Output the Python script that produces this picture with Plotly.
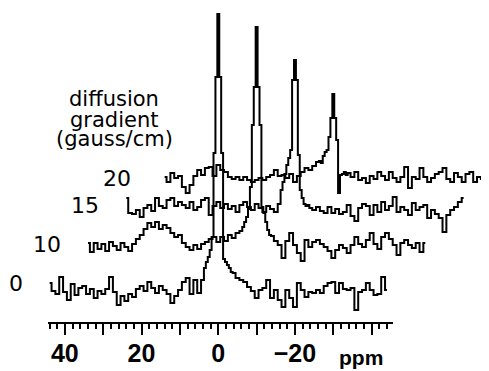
import plotly.graph_objects as go

# ---------------- data ----------------
GRADIENTS = ["0", "10", "15", "20"]          # diffusion gradient (gauss/cm)

# chemical shift grid relative to each spectrum's peak (ppm)
LEFT_PPM = list(range(44, 3, -1))
PEAK_PPM = [3.5, 3, 2.5, 2, 1.5, 1, 0.5, 0, -0.5, -1, -1.5, -2, -2.5, -3, -3.5]
RIGHT_PPM = list(range(-4, -45, -1))
REL_PPM = LEFT_PPM + PEAK_PPM + RIGHT_PPM

signal_0 = [
    9, 1, -2, 15, 0, -8, 8, -3, 4, 6, -2, 3, -6, 1, -2, 3, 15, 0, -13, -4,
    -9, -2, -5, 3, 6, 1, 10, 4, -1, 6, 2, -2, -11, -4, 2, 10, 14, -2, 12, -1, 12,
    24, 30, 35, 42, 55, 139, 215, 278, 215, 139, 33, 30, 27, 24, 20,
    19, 14, 12, 10, 5, 1, -6, 2, 4, 12, -6, 2, -8, -15, 2, -6, -15, 9, 2, -5,
    0, -1, 2, -1, 6, 9, 10, -1, 9, 3, 2, 4, -18, 0, 2, 9, 2, -3, -2, 15, 2,
]
signal_10 = [
    4, -5, 4, -2, 3, -4, 5, 1, -3, 4, 0, -4, 3, 8, 12, 18, 24, 20, 25, 18,
    22, 19, 14, 10, 12, 4, 0, -3, 2, -2, 3, 5, 8, 10, 5, 10, 6, 12, 9, 14, 16,
    20, 25, 30, 38, 60, 122, 160, 220, 160, 122, 40, 34, 25, 17, 12,
    11, 6, 2, -11, 6, 14, 2, -6, -14, 7, 0, 5, 7, 3, 0, -4, -11, -3, 2, -1,
    -6, 2, 10, 3, 0, 7, 14, 3, -2, 10, 14, 8, 2, -8, 4, 7, 2, -1, 4, -5, 4,
]
signal_15 = [
    12, -3, -4, 0, -7, 2, 5, -1, 12, 4, 2, 10, 12, 4, 8, 5, 2, 8, 0, 3,
    10, 12, -5, 4, 8, 2, 6, 1, 4, -2, 5, 8, 3, 0, 6, 2, -2, 4, 1, -2, 6,
    20, 28, 36, 45, 52, 60, 130, 150, 130, 55, 20, 12, 6, 4, 5,
    2, 0, 3, -1, -3, 3, -3, 1, -4, -2, 5, -6, -11, 2, 6, 4, -5, 5, -2, 8,
    0, 4, 13, -2, 3, 0, -5, 7, 0, 3, 5, -8, 0, -4, -8, -22, -5, 0, 3, 8, 12,
]
signal_20 = [
    3, -2, 7, 2, 4, -7, -13, -5, 4, 10, 5, 12, 13, 4, 15, 10, 8, 3, 1, 3,
    0, 3, 0, -2, 0, 2, 0, 3, 5, 10, 4, 5, 2, 6, -2, 4, 8, 12, 10, 14, 18,
    19, 17, 24, 28, 30, 43, 62, 86, 62, 40, -13, 5, 6, 8, 5,
    7, 3, 8, 0, 2, -3, 4, 1, 8, 4, 0, 8, 2, -2, 3, 13, -8, 3, 1, 12,
    3, -2, 2, 6, 8, 12, 1, -2, 7, 3, -2, 6, 8, -2, 3, 1, -2, None, None, None, None,
]
SPECTRA = [signal_0, signal_10, signal_15, signal_20]

TICK_VALS = [40, 30, 20, 10, 0, -10, -20, -30, -40]
TICK_TEXT = ["40", "", "20", "", "0", "", "\u221220", "", ""]

# ---------------- layout constants (pseudo-3D stacking) ----------------
PAGE = 8                       # default page margin of the html body
W, H = 489 - PAGE, 371 - PAGE  # figure size so it fits the window
PLOT_BOTTOM = 322 - PAGE       # axis line position inside the figure
X_SHIFT = [0, -10, -20, -30]   # ppm shift of each stacked spectrum
Y_SHIFT = [30, 75, 112, 142]   # vertical offset of each spectrum
# label positions in window pixels
LABEL_POS = [(16, 283), (47, 245), (85, 205), (117, 178)]
TITLE_POS = [("diffusion", 99), ("gradient", 120), ("(gauss/cm)", 139)]


def px(x):
    return (x - PAGE) / W


def py(y):
    return (PLOT_BOTTOM - (y - PAGE)) / PLOT_BOTTOM


fig = go.Figure()
for i, sig in enumerate(SPECTRA):
    fig.add_trace(go.Scatter(
        x=[p + X_SHIFT[i] for p in REL_PPM],
        y=[None if v is None else v + Y_SHIFT[i] for v in sig],
        mode="lines", line=dict(color="black", width=2, shape="hvh"),
        xaxis="x", yaxis="y", showlegend=False, hoverinfo="skip",
        connectgaps=False,
    ))

# carrier trace for the ppm axis
fig.add_trace(go.Scatter(x=[44.4, -45.6], y=[None, None], xaxis="x2", yaxis="y",
                         mode="lines", showlegend=False, hoverinfo="skip"))

ann = []
for (lx, ly), g in zip(LABEL_POS, GRADIENTS):
    ann.append(dict(text=g, x=px(lx), y=py(ly),
                    xref="paper", yref="paper", showarrow=False,
                    xanchor="center", yanchor="middle",
                    font=dict(family="DejaVu Sans", size=22, color="black")))
for txt, ty in TITLE_POS:
    ann.append(dict(text=txt, x=px(114), y=py(ty),
                    xref="paper", yref="paper", showarrow=False,
                    xanchor="center", yanchor="middle",
                    font=dict(family="DejaVu Sans", size=21, color="black")))
ann.append(dict(text="ppm", x=px(361), y=py(357),
                xref="paper", yref="paper", showarrow=False,
                xanchor="center", yanchor="middle",
                font=dict(family="Liberation Sans", size=21, color="black", weight="bold")))

# window pixel -> ppm : ppm = (218.3 - x) / 3.833
fig.update_layout(
    width=W, height=H,
    margin=dict(l=0, r=0, t=0, b=H - PLOT_BOTTOM, pad=0, autoexpand=False),
    paper_bgcolor="white", plot_bgcolor="rgba(0,0,0,0)",
    xaxis=dict(range=[(218.3 - PAGE) / 3.833, (218.3 - 489) / 3.833], visible=False,
               domain=[0, 1], fixedrange=True, automargin=False),
    xaxis2=dict(domain=[px(48), px(393)], range=[44.4, -45.6], anchor="y",
                showline=True, linecolor="black", linewidth=2,
                showgrid=False, zeroline=False, automargin=False,
                ticks="outside", ticklen=11, tickwidth=1.5, tickcolor="black",
                tickmode="array", tickvals=TICK_VALS, ticktext=TICK_TEXT,
                tickfont=dict(family="Liberation Sans", size=25, color="black", weight="bold"),
                ticklabelstandoff=-3,
                minor=dict(ticks="outside", tickmode="linear", tick0=0, dtick=2,
                           ticklen=5, tickwidth=1.5, tickcolor="black", showgrid=False),
                fixedrange=True),
    yaxis=dict(range=[0, PLOT_BOTTOM], visible=False, fixedrange=True, automargin=False),
    annotations=ann,
)

fig.write_html("out.html")
